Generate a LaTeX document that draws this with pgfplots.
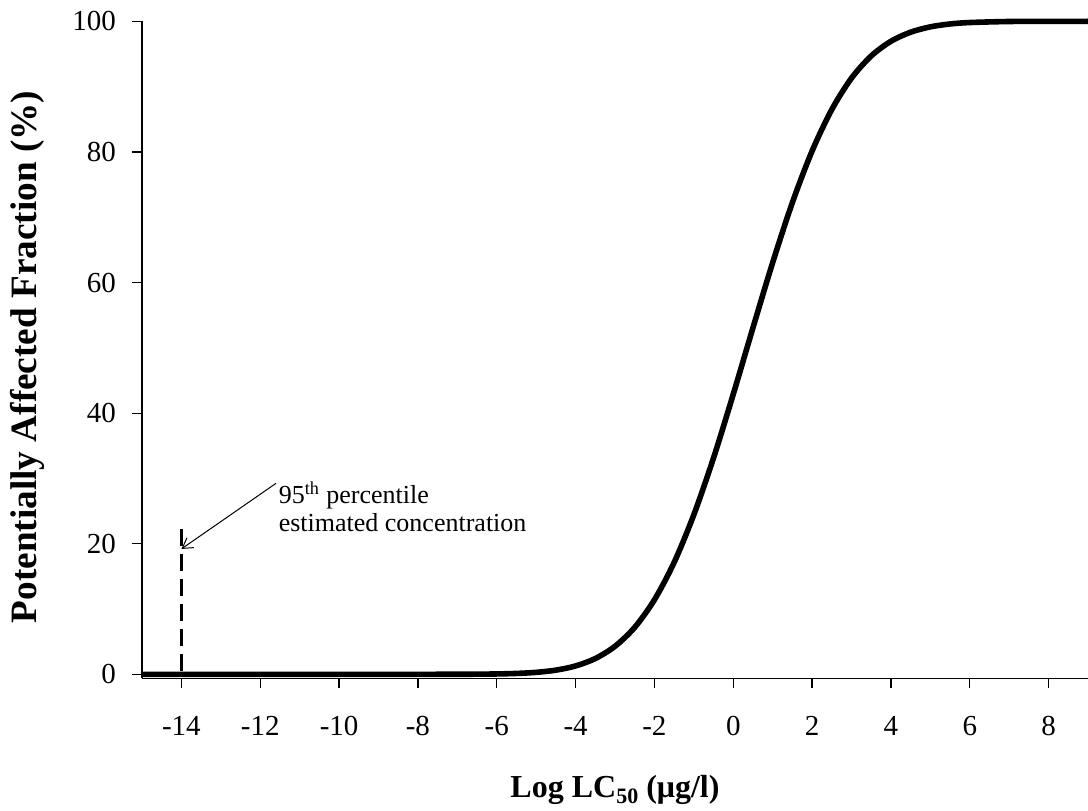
\documentclass[border=0pt]{standalone}
\usepackage{fontspec}
\setmainfont{Liberation Serif}
\usepackage{pgfplots}
\pgfplotsset{compat=1.18}
\usetikzlibrary{arrows.meta}
\begin{document}
\begin{tikzpicture}
\begin{axis}[
  at={(71pt,65.85pt)}, anchor=south west,
  scale only axis, width=473pt, height=328.5pt,
  xmin=-15, xmax=9, ymin=-0.61, ymax=100,
  clip=false,
  axis x line*=bottom, axis y line*=left,
  axis line style={-, line width=0.7pt},
  xtick={-14,-12,...,8}, ytick={0,20,...,100},
  tick align=outside, major tick length=5pt,
  tick style={line width=0.6pt, black},
  /pgf/number format/assume math mode=true,
  ticklabel style={font=\fontsize{14.5}{17}\selectfont},
  xticklabel style={yshift=-10.5pt},
  yticklabel style={xshift=-4.5pt},
  xlabel={Log LC\raisebox{-0.45ex}{\fontsize{11}{13}\selectfont 50} (μg/l)},
  ylabel={Potentially Affected Fraction (\%)},
  xlabel style={at={(axis description cs:0.5,-0.1807)}, anchor=base, font=\bfseries\fontsize{16}{19}\selectfont},
  ylabel style={at={(axis description cs:-0.1216,0.489)}, anchor=center, font=\bfseries\fontsize{18.6}{22}\selectfont},
]
\addplot[black, line width=2.8pt, smooth, line join=round] coordinates {
(-15,0) (-12,0) (-10,0) (-8,0.001) (-7,0.008) (-6.5,0.022) (-6,0.057)
(-5.5,0.135) (-5,0.30) (-4.5,0.64) (-4,1.28) (-3.5,2.42) (-3,4.29)
(-2.5,7.19) (-2,11.41) (-1.5,17.13) (-1,24.44) (-0.5,33.14) (0,42.89)
(0.5,53.07) (1,63.05) (1.5,72.24) (2,80.13) (2.5,86.49) (3,91.30)
(3.5,94.69) (4,96.94) (4.5,98.33) (5,99.15) (5.5,99.59) (6,99.81)
(7,99.97) (8,99.99) (9,100)
};
\addplot[black, line width=1.5pt, dash pattern=on 8.5pt off 4pt] coordinates {(-14,22.2) (-14,0)};
\draw[line width=0.5pt, -{Straight Barb[length=5pt,width=6pt]}] (axis cs:-11.6,29.25) -- (axis cs:-14,19.2);
\node[anchor=base west, inner sep=0pt, font=\fontsize{13}{15}\selectfont] at (axis cs:-11.54,26.2) {95\textsuperscript{th} percentile};
\node[anchor=base west, inner sep=0pt, font=\fontsize{13}{15}\selectfont] at (axis cs:-11.54,21.85) {estimated concentration};
\end{axis}
\pgfresetboundingbox
\path[use as bounding box] (0,0) rectangle (544pt,405pt);
\end{tikzpicture}
\end{document}
